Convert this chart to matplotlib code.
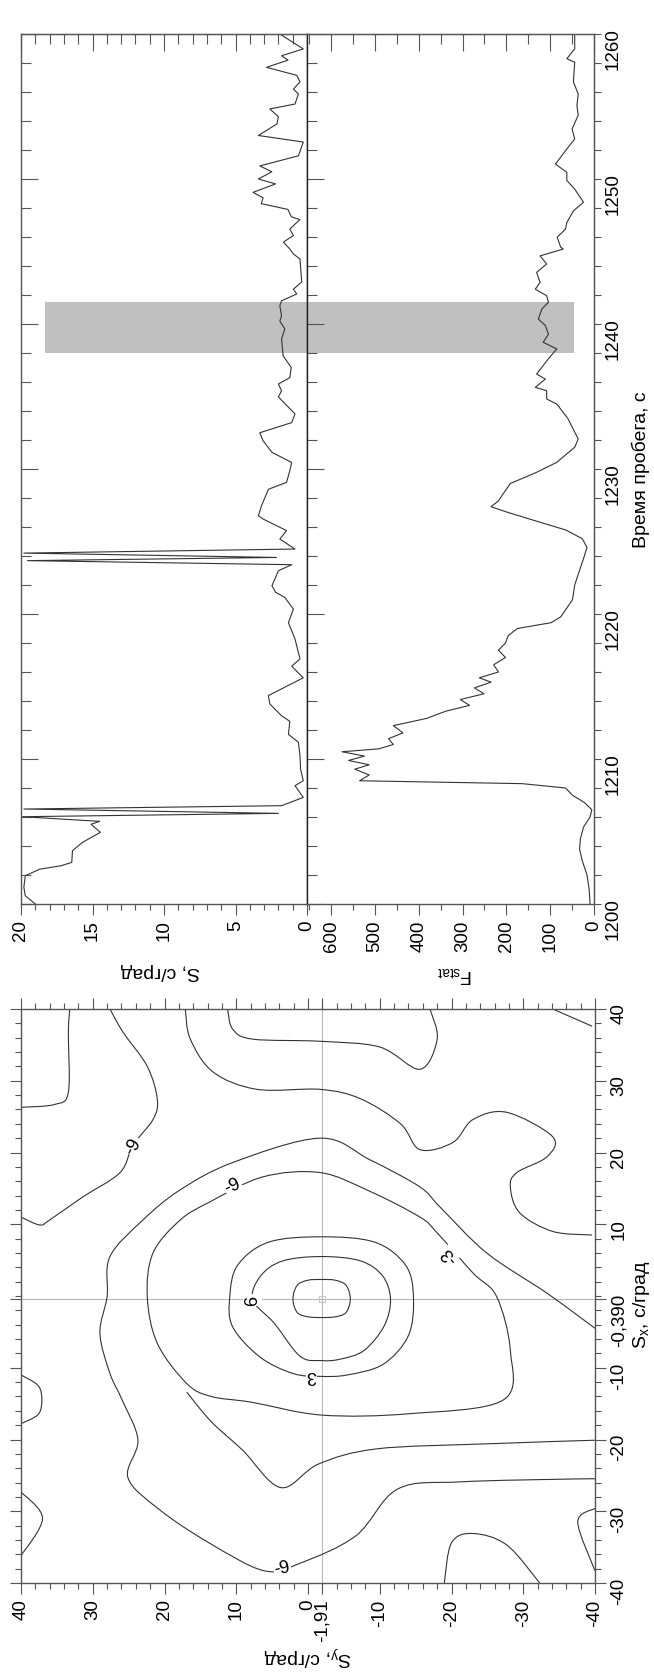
import numpy as np
import matplotlib.pyplot as plt
from matplotlib.ticker import MultipleLocator, FixedLocator
from matplotlib.path import Path
from matplotlib.patches import PathPatch

plt.rcParams['font.family'] = ['Liberation Sans', 'DejaVu Sans']
plt.rcParams['mathtext.fontset'] = 'custom'
plt.rcParams['mathtext.rm'] = 'Liberation Sans'
plt.rcParams['mathtext.default'] = 'regular'
plt.rcParams['axes.unicode_minus'] = False

#%% data: time series (time, s)
s_time = [1200.0, 1200.57, 1201.15, 1201.95, 1202.4, 1202.64, 1202.87, 1203.68, 1204.25,
          1204.94, 1205.5, 1205.7, 1206.02, 1206.25, 1206.55, 1206.78, 1207.35, 1208.16,
          1208.5, 1209.3, 1210.23, 1211.15, 1211.7, 1212.6, 1212.98, 1213.8, 1214.37,
          1214.6, 1215.6, 1216.4, 1216.9, 1218.28, 1219.4, 1220.34, 1221.14, 1221.5,
          1221.95, 1222.98, 1223.4, 1223.68, 1223.9, 1224.2, 1224.48, 1225.17, 1225.75,
          1226.55, 1226.78, 1227.47, 1228.6, 1229.08, 1229.9, 1230.45, 1231.15, 1231.95,
          1232.5, 1233.2, 1233.8, 1234.97, 1235.4, 1235.86, 1236.3, 1237.0, 1237.8,
          1238.97, 1239.66, 1240.2, 1240.57, 1241.26, 1241.6, 1242.07, 1242.4, 1242.9,
          1244.48, 1244.83, 1245.17, 1245.65, 1246.1, 1246.55, 1247.2, 1247.4, 1247.9,
          1248.3, 1248.7, 1249.08, 1249.66, 1250.0, 1250.5, 1250.9, 1251.6, 1252.55,
          1253.0, 1253.8, 1254.3, 1254.83, 1255.17, 1255.86, 1256.2, 1256.7, 1257.15,
          1257.7, 1258.2, 1258.5, 1258.97, 1260.0]
s_val = [19.0, 19.7, 19.8, 19.7, 18.7, 17.2, 16.45, 16.4, 15.7,
         14.45, 15.1, 14.5, 19.9, 2.0, 19.8, 1.78, 0.26, 0.84,
         0.26, 0.45, 0.49, 0.6, 1.3, 1.2, 1.78, 2.6, 2.7,
         2.25, 0.26, 1.07, 0.49, 0.84, 1.3, 0.95, 1.55, 2.2,
         2.45, 2.0, 1.07, 19.55, 2.13, 19.8, 0.84, 1.9, 1.43,
         3.07, 3.4, 3.18, 2.7, 1.43, 1.2, 1.07, 2.45, 3.07,
         3.3, 1.07, 0.84, 2.0, 1.78, 2.0, 1.2, 1.1, 1.67,
         1.78, 1.55, 1.9, 1.78, 1.9, 1.78, 0.72, 0.95, 0.37,
         0.49, 0.95, 1.2, 1.65, 0.95, 1.2, 0.5, 1.1, 1.33,
         3.2, 3.07, 3.77, 2.2, 3.4, 2.46, 3.3, 0.6, 0.26,
         3.4, 2.1, 2.0, 2.6, 0.84, 0.6, 0.95, 0.49, 0.72,
         2.83, 1.33, 1.78, 0.26, 1.9]

f_time = [1200.0, 1201.0, 1202.0, 1203.0, 1203.8, 1204.5, 1205.3, 1206.0, 1206.5, 1207.0,
          1207.5, 1208.0, 1208.3, 1208.5, 1208.9, 1209.3, 1209.6, 1209.9, 1210.2, 1210.5,
          1210.7, 1211.0, 1211.4, 1211.8, 1212.3, 1212.8, 1213.3, 1213.7, 1214.1, 1214.5,
          1214.9, 1215.3, 1215.6, 1216.0, 1216.5, 1217.0, 1217.5, 1218.0, 1218.5, 1219.0,
          1219.4, 1219.8, 1220.5, 1221.0, 1222.0, 1223.0, 1224.0, 1224.6, 1225.2, 1225.8,
          1226.4, 1227.0, 1227.4, 1227.8, 1228.3, 1229.0, 1229.77, 1230.46, 1231.5, 1232.07,
          1233.5, 1234.48, 1234.83, 1235.4, 1235.63, 1236.2, 1236.55, 1237.6, 1238.28, 1238.74,
          1239.3, 1239.9, 1240.34, 1241.03, 1241.5, 1241.95, 1242.4, 1242.87, 1243.56, 1244.14,
          1244.7, 1245.17, 1245.3, 1245.98, 1246.55, 1247.0, 1247.8, 1248.4, 1249.3, 1249.9,
          1250.46, 1251.03, 1252.07, 1252.76, 1253.45, 1254.4, 1255.06, 1255.86, 1256.7, 1258.05,
          1258.3, 1258.97, 1260.0]
f_val = [9, 11, 16, 27, 33, 31, 24, 9, 5, 22,
         49, 65, 164, 535, 513, 546, 513, 560, 524, 575,
         491, 458, 469, 436, 458, 382, 338, 284, 305, 251,
         273, 235, 262, 218, 229, 202, 218, 202, 196, 175,
         98, 76, 60, 49, 44, 33, 22, 16, 27, 65,
         131, 196, 235, 218, 207, 191, 131, 85, 44, 36,
         60, 85, 108, 108, 134, 111, 131, 104, 85, 116,
         104, 111, 127, 119, 104, 108, 134, 123, 131, 108,
         123, 70, 76, 84, 65, 62, 47, 24, 44, 62,
         62, 88, 62, 44, 50, 36, 39, 36, 47, 44,
         62, 44, 44]

band_t = [1238.0, 1241.5]
band_s = 18.3
band_f = 46

#%% data: contour lines of the slowness map, points as (Sy, Sx)
ring_9 = [(2.1, -0.4), (1.5, 1.5), (0.0, 2.2), (-1.9, 2.3), (-3.8, 2.2), (-5.3, 1.5), (-5.9, -0.4),
          (-5.3, -2.3), (-3.8, -2.9), (-1.9, -3.0), (0.0, -2.9), (1.5, -2.3), (2.1, -0.4)]
ring_6 = [(7.7, -0.5), (6.6, 2.8), (3.5, 4.9), (-1.9, 5.5), (-7.3, 4.9), (-10.4, 2.8), (-11.5, -0.5),
          (-10.6, -4.2), (-7.8, -7.6), (-4.5, -8.8), (-1.9, -9.0), (1.1, -8.4), (4.7, -3.8), (7.7, -0.5)]
ring_3 = [(10.9, -0.1), (9.8, 4.3), (5.5, 7.5), (-1.9, 8.25), (-9.3, 7.5), (-13.6, 4.3), (-14.7, -0.1),
          (-14.0, -5.5), (-10.5, -9.5), (-5.5, -11.0), (-1.7, -11.2), (2.1, -10.8), (6.7, -8.5),
          (10.5, -4.3), (10.9, -0.1)]
ring_m3 = [(-1.7, 17.2), (6.3, 16.6), (13.7, 13.1), (17.8, 10.6), (21.6, 6.0), (22.4, -0.1),
           (21.0, -6.6), (16.9, -12.2), (13.5, -14.0), (7.9, -14.8), (-1.95, -16.6), (-14.2, -16.4),
           (-27.2, -14.5), (-28.2, -7.6), (-26.3, -0.1), (-23.0, 3.2), (-18.0, 8.8), (-15.6, 11.0),
           (-8.6, 14.6), (-1.7, 17.2)]
line_k = [(16.9, -13.4), (13.5, -17.5), (9.1, -21.5), (3.8, -26.7), (-1.5, -23.4), (-9.6, -21.3),
          (-25.0, -20.6), (-40, -20.1)]
line_e = [(-40, -4.5), (-33.3, 0.4), (-24.9, 6.0), (-18.4, 12.4), (-15.6, 15.2), (-8.6, 19.0), (-1.7, 22.0),
          (10.5, 18.6), (17.8, 14.8), (23.0, 10.6), (27.6, 5.5), (28.0, -0.1), (29.0, -5.2), (27.6, -10.8),
          (25.9, -14.5), (23.7, -20.1), (25.1, -25.3), (20.8, -29.7), (13.8, -34.4), (6.1, -38.3),
          (1.0, -37.2), (-6.7, -33.4), (-12.5, -26.9), (-21.3, -25.9), (-37.2, -25.5), (-40, -25.5)]
line_b = [(27.6, 40), (25.8, 36.8), (22.4, 32.0), (21.0, 27.4), (21.6, 24.6), (24.4, 21.0), (26.2, 17.2),
          (31.4, 13.8), (36.0, 10.6), (37.4, 9.9), (40, 11.0)]
line_a = [(33.2, 40), (33.4, 36.8), (33.4, 28.4), (35.3, 26.7), (40, 26.3)]
line_c = [(17.1, 40), (16.4, 35.8), (13.2, 31.2), (7.1, 28.8), (-1.7, 28.8), (-7.3, 27.5), (-12.9, 24.0),
          (-15.6, 20.4), (-20.2, 21.4), (-23.0, 24.6), (-27.7, 25.6), (-34.1, 22.2), (-33.3, 19.4),
          (-29.1, 17.2), (-28.2, 15.2), (-29.5, 11.6), (-34.1, 9.0), (-39.6, 8.5)]
line_d = [(11.2, 40), (10.5, 37.2), (7.7, 35.8), (-1.7, 35.5), (-10.0, 34.7), (-15.6, 31.6), (-18.0, 35.8),
          (-17.0, 40)]
line_tr = [(-34.1, 40), (-39.6, 37.6)]
line_l1 = [(40, -11.0), (37.6, -12.5), (37.1, -14.5), (37.6, -16.5), (40, -17.8)]
line_l2 = [(40, -27.3), (37.0, -31.0), (40, -36.2)]
line_bb = [(-19.0, -40), (-20.0, -34.4), (-23.0, -33.1), (-27.7, -34.7), (-32.3, -40)]
line_rb = [(-40, -29.6), (-37.6, -31.5), (-40, -38.3)]
contour_lines = [ring_9, ring_6, ring_3, ring_m3, line_k, line_e, line_b, line_a, line_c, line_d,
                 line_tr, line_l1, line_l2, line_bb, line_rb]

# contour labels: (Sy, Sx, text, rotation)
clabels = [(24.4, 21.0, '-9', 60), (10.5, 15.4, '-9', 25), (7.7, -0.5, '6', 90),
           (-0.5, -10.9, '3', 180), (-19.8, 5.8, '-3', 132), (3.6, -37.9, '-9', 12)]

sy_ticks = [40, 30, 20, 10, 0, -1.91, -10, -20, -30, -40]
sy_labels = ['40', '30', '20', '10', '0', '-1,91', '-10', '-20', '-30', '-40']
sx_ticks = [40, 30, 20, 10, -0.39, -10, -20, -30, -40]
sx_labels = ['40', '30', '20', '10', '-0,390', '-10', '-20', '-30', '-40']
sy0, sx0 = -1.91, -0.39


def smooth_path(pts):
    # smooth curve through the traced points (Catmull-Rom as cubic Bezier)
    p = np.asarray(pts, float)
    closed = np.allclose(p[0], p[-1])
    if closed:
        ext = np.vstack([p[-2], p, p[1]])
    else:
        ext = np.vstack([p[0], p, p[-1]])
    verts = [ext[1]]
    codes = [Path.MOVETO]
    for i in range(1, len(ext) - 2):
        p0, p1, p2, p3 = ext[i - 1], ext[i], ext[i + 1], ext[i + 2]
        verts += [p1 + (p2 - p0) / 6, p2 - (p3 - p1) / 6, p2]
        codes += [Path.CURVE4] * 3
    return Path(verts, codes)


#%% figure
W, H = 654, 1674
fig = plt.figure(figsize=(W / 100, H / 100), dpi=100)


def box(x0, y0, x1, y1):
    return [x0 / W, 1 - y1 / H, (x1 - x0) / W, (y1 - y0) / H]


ink = '#333333'
spine = '#555555'
fs = 13.5

ax_s = fig.add_axes(box(21, 35, 307, 905))
ax_f = fig.add_axes(box(307, 35, 594, 905))
ax_c = fig.add_axes(box(21, 1010, 595, 1584))

for ax in (ax_s, ax_f, ax_c):
    for sp in ax.spines.values():
        sp.set_color(spine)
        sp.set_linewidth(1.0)
ax_s.spines['right'].set_color('#222222')
ax_f.spines['left'].set_color('#222222')

# S panel
ax_s.fill_betweenx(band_t, band_s, 0, color='#c0c0c0', lw=0, zorder=0)
ax_s.plot(s_val, s_time, color=ink, lw=0.8)
ax_s.set_xlim(20, 0)
ax_s.set_ylim(1200, 1260)
ax_s.xaxis.set_major_locator(MultipleLocator(5))
ax_s.xaxis.set_minor_locator(MultipleLocator(1))
ax_s.yaxis.set_major_locator(MultipleLocator(10))
ax_s.yaxis.set_minor_locator(MultipleLocator(2))
ax_s.tick_params(axis='x', which='both', direction='out', colors=spine, labelcolor='black',
                 labelsize=fs, labelrotation=90, pad=3)
ax_s.tick_params(axis='x', which='major', length=8, width=0.8)
ax_s.tick_params(axis='x', which='minor', length=4, width=0.8)
ax_s.tick_params(axis='y', which='both', direction='in', left=True, right=False, labelleft=False,
                 colors=spine)
ax_s.tick_params(axis='y', which='major', length=12, width=0.8)
ax_s.tick_params(axis='y', which='minor', length=7, width=0.8)
top_s = ax_s.secondary_xaxis('top')
top_s.xaxis.set_major_locator(MultipleLocator(5))
top_s.xaxis.set_minor_locator(MultipleLocator(1))
top_s.tick_params(which='both', direction='in', labeltop=False, colors=spine)
top_s.tick_params(which='major', length=12, width=0.8)
top_s.tick_params(which='minor', length=7, width=0.8)
top_s.spines['top'].set_color(spine)

# F panel
ax_f.fill_betweenx(band_t, 700, band_f, color='#c0c0c0', lw=0, zorder=0)
ax_f.plot(f_val, f_time, color=ink, lw=0.8)
ax_f.set_xlim(655, 0)
ax_f.set_ylim(1200, 1260)
ax_f.xaxis.set_major_locator(MultipleLocator(100))
ax_f.xaxis.set_minor_locator(MultipleLocator(50))
ax_f.yaxis.set_major_locator(MultipleLocator(10))
ax_f.yaxis.set_minor_locator(MultipleLocator(2))
ax_f.tick_params(axis='x', which='both', direction='out', colors=spine, labelcolor='black',
                 labelsize=fs, labelrotation=90, pad=3)
ax_f.tick_params(axis='x', which='major', length=8, width=0.8)
ax_f.tick_params(axis='x', which='minor', length=4, width=0.8)
ax_f.tick_params(axis='y', which='both', direction='in', left=True, right=False, labelleft=False,
                 colors=spine)
ax_f.tick_params(axis='y', which='major', length=12, width=0.8)
ax_f.tick_params(axis='y', which='minor', length=7, width=0.8)
top_f = ax_f.secondary_xaxis('top')
top_f.xaxis.set_major_locator(MultipleLocator(100))
top_f.xaxis.set_minor_locator(MultipleLocator(50))
top_f.tick_params(which='both', direction='in', labeltop=False, colors=spine)
top_f.tick_params(which='major', length=12, width=0.8)
top_f.tick_params(which='minor', length=7, width=0.8)
top_f.spines['top'].set_color(spine)
right_f = ax_f.secondary_yaxis('right')
right_f.yaxis.set_major_locator(MultipleLocator(10))
right_f.yaxis.set_minor_locator(MultipleLocator(2))
right_f.tick_params(which='both', direction='out', colors=spine, labelcolor='black',
                    labelsize=fs, labelrotation=90, pad=3)
right_f.tick_params(which='major', length=5, width=0.8)
right_f.tick_params(which='minor', length=5, width=0.8)
right_f.spines['right'].set_color(spine)

# slowness map
ax_c.axvline(sy0, color='#b8b8b8', lw=0.8, zorder=1)
ax_c.axhline(sx0, color='#b8b8b8', lw=0.8, zorder=1)
ax_c.plot([sy0], [sx0], marker='s', ms=4, mfc='none', mec='#c8c8c8', mew=0.8, zorder=1)
for ln in contour_lines:
    ax_c.add_patch(PathPatch(smooth_path(ln), fc='none', ec=ink, lw=0.8, zorder=2))
for sy, sx, txt, rot in clabels:
    ax_c.text(sy, sx, txt, rotation=rot, fontsize=13, ha='center', va='center', rotation_mode='anchor',
              bbox=dict(boxstyle='square,pad=0.05', fc='white', ec='none'), zorder=3)
ax_c.set_xlim(40, -40)
ax_c.set_ylim(-40, 40)
ax_c.xaxis.set_major_locator(FixedLocator(sy_ticks))
ax_c.set_xticklabels(sy_labels)
ax_c.yaxis.set_major_locator(FixedLocator(sx_ticks))
ax_c.set_yticklabels(sx_labels)
ax_c.xaxis.set_minor_locator(MultipleLocator(2))
ax_c.yaxis.set_minor_locator(MultipleLocator(2))
ax_c.tick_params(which='both', direction='out', top=True, right=True, left=True, bottom=True,
                 labelleft=False, labelright=True, labelbottom=True, colors=spine, labelcolor='black')
ax_c.tick_params(which='major', length=8, width=0.8, labelsize=fs, pad=3)
ax_c.tick_params(which='minor', length=4, width=0.8)
ax_c.tick_params(axis='x', labelrotation=90)
ax_c.tick_params(axis='y', labelrotation=90)

# axis titles
fig.text(160 / W, 1 - 972 / H, 'S, с/град', rotation=180, fontsize=14, ha='center', va='center')
fig.text(455 / W, 1 - 975 / H, 'F$_{stat}$', rotation=180, fontsize=14, ha='center', va='center')
fig.text(641 / W, 1 - 470 / H, 'Время пробега, с', rotation=90, fontsize=14, ha='center', va='center')
fig.text(641 / W, 1 - 1305 / H, 'S$_x$, с/град', rotation=90, fontsize=14, ha='center', va='center')
fig.text(308 / W, 1 - 1656 / H, 'S$_y$, с/град', rotation=180, fontsize=14, ha='center', va='center')

fig.savefig('out.png', dpi=100)
